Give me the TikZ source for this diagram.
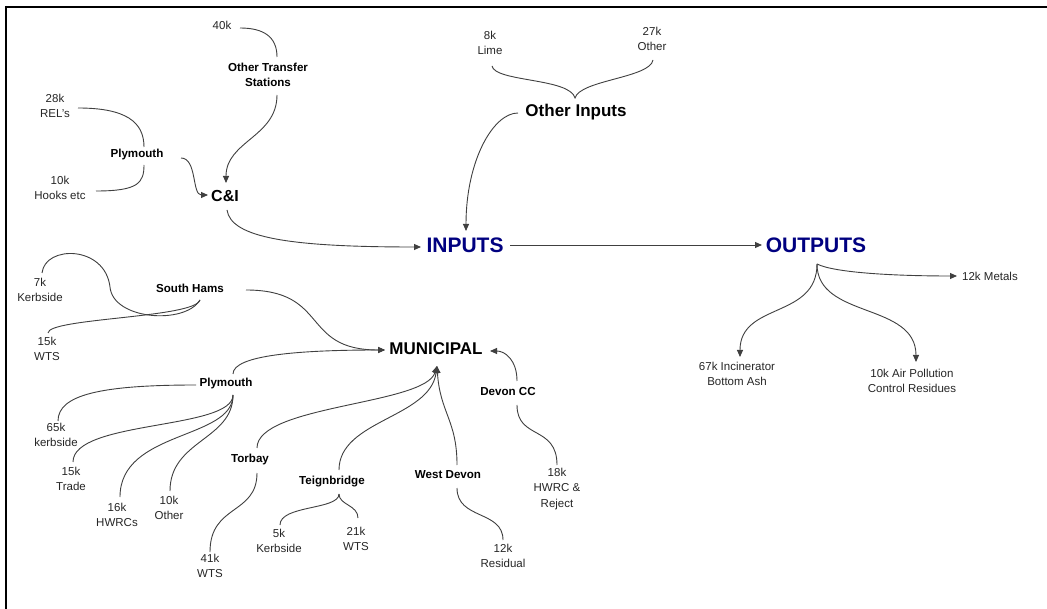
\documentclass[tikz,border=0pt]{standalone}
\usepackage{fontspec}
\setmainfont{Liberation Sans}
\usetikzlibrary{arrows.meta,calc}
\definecolor{navyblue}{RGB}{0,0,128}
\definecolor{linegray}{RGB}{64,64,64}
\tikzset{
  lab/.style={inner sep=0pt,align=center,text=black!85,font=\fontsize{11.5}{15.5}\selectfont},
  sub/.style={inner sep=0pt,align=center,font=\fontsize{11.6}{15.5}\selectfont\bfseries},
  mid/.style={inner sep=0pt,font=\fontsize{17}{20}\selectfont\bfseries},
  big/.style={inner sep=0pt,text=navyblue,font=\fontsize{21}{24}\selectfont\bfseries},
  conn/.style={draw=linegray,line width=0.9pt},
  arr/.style={conn,-{Triangle[length=7pt,width=6pt]}},
  frame/.style={draw=black}
}
\begin{document}
\begin{tikzpicture}[x=1pt,y=-1pt]
\useasboundingbox (0,0) rectangle (1047,609);
\fill[white] (0,0) rectangle (1047,609);
% frame
\draw[frame,line width=2pt] (6,7) -- (1047,7);
\draw[frame,line width=1.2pt] (6,6) -- (6,609);

% ---- C&I branch
\node[lab] (n40k) at (222,25) {40k};
\node[sub] (ots) at (268,75) {Other Transfer\\Stations};
\node[lab] (rels) at (55,106) {28k\\REL's};
\node[sub] (ply1) at (137,155) {Plymouth};
\node[lab] (hooks) at (60,188) {10k\\Hooks etc};
\node[inner sep=0pt,font=\fontsize{16}{18}\selectfont\bfseries] (ci) at (225,196) {C\&I};

% ---- other inputs
\node[lab] (lime) at (490,43) {8k\\Lime};
\node[lab] (oth27) at (652,39) {27k\\Other};
\node[mid] (otherin) at (576,112) {Other Inputs};

% ---- main
\node[big] (inputs) at (465,245) {INPUTS};
\node[big] (outputs) at (816,245) {OUTPUTS};
\node[lab] (metals) at (990,276) {12k Metals};
\node[lab] (ash) at (737,374) {67k Incinerator\\Bottom Ash};
\node[lab] (apc) at (912,381) {10k Air Pollution\\Control Residues};

% ---- municipal
\node[mid] (muni) at (436,349) {MUNICIPAL};
\node[sub] (sh) at (190,288) {South Hams};
\node[lab] (kerb7) at (40,290) {7k\\Kerbside};
\node[lab] (wts15) at (47,349) {15k\\WTS};
\node[sub] (ply2) at (226,384) {Plymouth};
\node[lab] (k65) at (56,435) {65k\\kerbside};
\node[lab] (trade) at (71,479) {15k\\Trade};
\node[lab] (hwrc16) at (117,515) {16k\\HWRCs};
\node[lab] (oth10) at (169,508) {10k\\Other};
\node[sub] (torbay) at (250,460) {Torbay};
\node[lab] (wts41) at (210,566) {41k\\WTS};
\node[sub] (teign) at (332,482) {Teignbridge};
\node[lab] (kerb5) at (279,541) {5k\\Kerbside};
\node[lab] (wts21) at (356,539) {21k\\WTS};
\node[sub] (wdevon) at (448,475) {West Devon};
\node[lab] (resid) at (503,556) {12k\\Residual};
\node[sub] (devoncc) at (508,392) {Devon CC};
\node[lab] (hwrc18) at (557,489) {18k\\HWRC \&\\Reject};

% ================= connectors
% C&I side
\draw[conn] ($(n40k)+(18,3)$) .. controls +(24,0) and +(0,-20) .. ($(ots)+(9,-18)$);
\draw[arr] ($(ots)+(9,20)$) .. controls +(0,42) and +(0,-42) .. ($(ci)+(1,-13)$);
\draw[conn] ($(rels)+(23,2)$) .. controls +(48,0) and +(0,-25) .. ($(ply1)+(7,-8)$);
\draw[conn] ($(hooks)+(36,3)$) .. controls +(42,0) and +(0,18) .. ($(ply1)+(7,10)$);
\draw[arr] ($(ply1)+(44,3)$) .. controls +(16,0) and +(-16,0) .. ($(ci)+(-17,-1)$);
\draw[arr] ($(ci)+(2,14)$) .. controls +(4,28) and +(-130,0) .. ($(inputs)+(-44,2)$);

% other inputs brace
\draw[conn] ($(lime)+(2,23)$) .. controls +(3,16) and +(-5,-20) .. ($(otherin)+(-1,-14)$)
            .. controls +(5,-18) and +(-3,18) .. ($(oth27)+(1,21)$);
\draw[arr] ($(otherin)+(-58,1)$) .. controls +(-25,0) and +(0,-70) .. ($(inputs)+(1,-14)$);

% inputs -> outputs
\draw[arr] ($(inputs)+(45,0)$) -- ($(outputs)+(-54,0)$);

% outputs
\draw[arr] ($(outputs)+(1,19)$) .. controls +(18,9) and +(-60,0) .. ($(metals)+(-33,0)$);
\draw[arr] ($(outputs)+(1,19)$) .. controls +(0,55) and +(0,-55) .. ($(ash)+(3,-17)$);
\draw[arr] ($(outputs)+(1,19)$) .. controls +(0,55) and +(0,-60) .. ($(apc)+(4,-19)$);

% South Hams
\draw[conn] ($(kerb7)+(2,-17)$) .. controls +(3,-28) and +(-5,-42) .. ($(sh)+(-80,-1)$)
            .. controls +(3,33) and +(-15,25) .. ($(sh)+(10,12)$);
\draw[conn] ($(wts15)+(1,-16)$) .. controls +(0,-15) and +(-5,18) .. ($(sh)+(10,12)$);
\draw[arr] ($(sh)+(56,2)$) .. controls +(84,0) and +(-85,0) .. ($(muni)+(-51,1)$);

% Plymouth municipal
\draw[arr] ($(ply2)+(7,-10)$) .. controls +(0,-19) and +(-85,0) .. ($(muni)+(-51,1)$);
\draw[conn] ($(ply2)+(-30,1)$) .. controls +(-96,0) and +(0,-26) .. ($(k65)+(2,-14)$);
\draw[conn] ($(ply2)+(7,11)$) .. controls +(0,35) and +(0,-42) .. ($(trade)+(2,-17)$);
\draw[conn] ($(ply2)+(7,11)$) .. controls +(0,45) and +(0,-67) .. ($(hwrc16)+(3,-18)$);
\draw[conn] ($(ply2)+(7,11)$) .. controls +(0,45) and +(0,-51) .. ($(oth10)+(1,-17)$);

% Torbay, Teignbridge, West Devon
\draw[arr] ($(torbay)+(7,-12)$) .. controls +(0,-43) and +(-12,39) .. ($(muni)+(1,17)$);
\draw[arr] ($(teign)+(7,-12)$) .. controls +(0,-50) and +(-7,52) .. ($(muni)+(1,17)$);
\draw[arr] ($(wdevon)+(9,-10)$) .. controls +(0,-45) and +(3,47) .. ($(muni)+(1,17)$);
\draw[conn] ($(torbay)+(7,13)$) .. controls +(0,42) and +(0,-48) .. ($(wts41)+(0,-14)$);
\draw[conn] ($(teign)+(7,12)$) .. controls +(0,16) and +(0,-20) .. ($(kerb5)+(1,-16)$);
\draw[conn] ($(teign)+(7,12)$) .. controls +(0,11) and +(0,-13) .. ($(wts21)+(2,-21)$);
\draw[conn] ($(wdevon)+(9,13)$) .. controls +(0,32) and +(0,-30) .. ($(resid)+(0,-16)$);

% Devon CC
\draw[arr] ($(devoncc)+(9,-11)$) .. controls +(0,-21) and +(15,0) .. ($(muni)+(54,2)$);
\draw[conn] ($(devoncc)+(9,13)$) .. controls +(0,35) and +(0,-40) .. ($(hwrc18)+(0,-24)$);
\end{tikzpicture}
\end{document}
